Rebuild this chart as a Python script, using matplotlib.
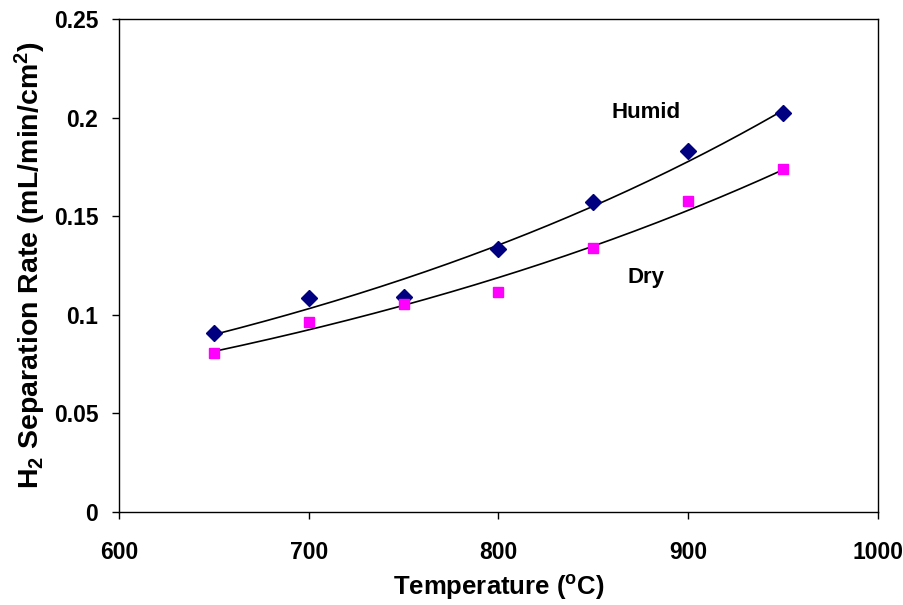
import numpy as np
import matplotlib
matplotlib.use("Agg")
import matplotlib.pyplot as plt

plt.rcParams['font.family'] = ['Liberation Sans', 'DejaVu Sans']
plt.rcParams['mathtext.fontset'] = 'custom'
plt.rcParams['mathtext.rm'] = 'Liberation Sans:bold'
plt.rcParams['mathtext.it'] = 'Liberation Sans:bold'
plt.rcParams['mathtext.bf'] = 'Liberation Sans:bold'

temperature = [650, 700, 750, 800, 850, 900, 950]
humid = [0.0908, 0.1085, 0.109, 0.1334, 0.157, 0.183, 0.2023]
dry = [0.0806, 0.0963, 0.1055, 0.1116, 0.1339, 0.1577, 0.1739]
xticks = [600, 700, 800, 900, 1000]
yticks = [0, 0.05, 0.1, 0.15, 0.2, 0.25]
ytick_labels = ['0', '0.05', '0.1', '0.15', '0.2', '0.25']

fig = plt.figure(figsize=(9.04, 6.05), dpi=100)
ax = fig.add_axes([0.1316, 0.1537, 0.8396, 0.8149])

t = np.array(temperature, dtype=float)
tt = np.linspace(650, 950, 200)
for vals in (humid, dry):
    b, a = np.polyfit(t, np.log(vals), 1)
    ax.plot(tt, np.exp(a + b * tt), color='black', lw=1.2, zorder=2)

ax.plot(temperature, humid, linestyle='none', marker='D', ms=8, color='#000080', zorder=3)
ax.plot(temperature, dry, linestyle='none', marker='s', ms=7.5, color='#FF00FF', zorder=3)

ax.set_xlim(600, 1000)
ax.set_ylim(0, 0.25)
ax.set_xticks(xticks)
ax.set_yticks(yticks)
ax.set_yticklabels(ytick_labels)
ax.tick_params(direction='out', length=5, width=1, labelsize=16.5)
ax.tick_params(axis='x', pad=16)
ax.tick_params(axis='y', pad=10)
for lab in ax.get_xticklabels() + ax.get_yticklabels():
    lab.set_fontweight('bold')
for s in ax.spines.values():
    s.set_linewidth(1)

ax.set_xlabel('Temperature ($^{\\mathrm{o}}$C)', fontsize=18.5, fontweight='bold', labelpad=6)
ax.set_ylabel('H$_{\\mathrm{2}}$ Separation Rate (mL/min/cm$^{\\mathrm{2}}$)', fontsize=20.5, fontweight='bold', labelpad=4)

ax.text(878, 0.2028, 'Humid', fontsize=16, fontweight='bold', ha='center', va='center')
ax.text(878, 0.1187, 'Dry', fontsize=16, fontweight='bold', ha='center', va='center')

fig.savefig('out.png', dpi=100)
